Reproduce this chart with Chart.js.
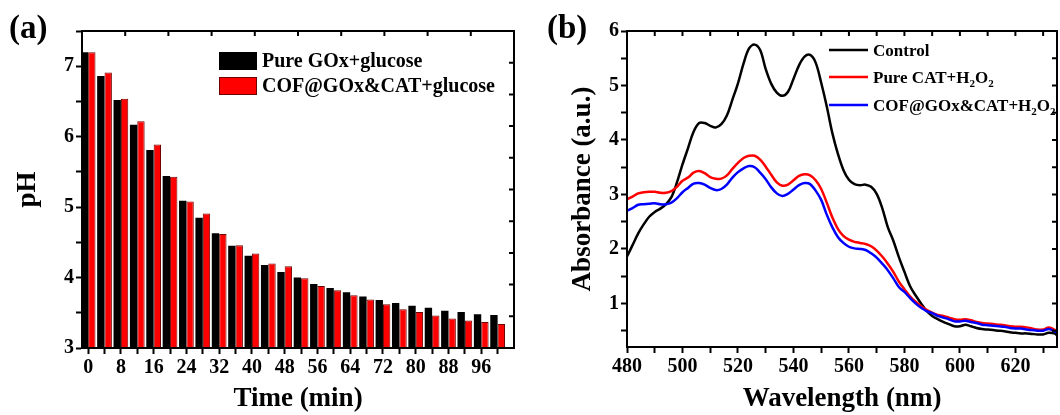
<!DOCTYPE html>
<html>
<head>
<meta charset="utf-8">
<script src="https://cdn.jsdelivr.net/npm/chart.js@4.4.1/dist/chart.umd.min.js"></script>
<style>
  html, body { margin: 0; padding: 0; background: #fff; }
  #wrap { position: relative; width: 1060px; height: 415px; overflow: hidden; }
  #chartA { position: absolute; left: 0; top: 0; }
  #chartB { position: absolute; left: 545px; top: 0; }
</style>
</head>
<body>
<div id="wrap">
  <canvas id="chartA" width="540" height="415"></canvas>
  <canvas id="chartB" width="515" height="415"></canvas>
</div>
<script>
// ---------- panel (a): pH vs time ----------
var times = [0, 4, 8, 12, 16, 20, 24, 28, 32, 36, 40, 44, 48, 52, 56, 60, 64, 68, 72, 76, 80, 84, 88, 92, 96, 100]
var phGox = [7.20, 6.86, 6.52, 6.17, 5.81, 5.44, 5.09, 4.85, 4.63, 4.45, 4.31, 4.18, 4.08, 4.00, 3.91, 3.85, 3.79, 3.73, 3.68, 3.64, 3.60, 3.57, 3.53, 3.51, 3.48, 3.47]
var phCof = [7.20, 6.91, 6.54, 6.22, 5.89, 5.43, 5.08, 4.91, 4.62, 4.46, 4.34, 4.20, 4.16, 3.99, 3.88, 3.82, 3.75, 3.69, 3.62, 3.55, 3.51, 3.46, 3.42, 3.39, 3.37, 3.34]
var legendA = ['Pure GOx+glucose', 'COF@GOx&CAT+glucose']
var yTicksA = [3, 3.5, 4, 4.5, 5, 5.5, 6, 6.5, 7, 7.5]

// ---------- panel (b): absorbance spectra ----------
var wavelength = [480, 482, 484, 486, 488, 490, 492, 494, 496, 498, 500, 502, 504, 506, 508, 510, 512, 514, 516, 518,
  520, 522, 524, 526, 528, 530, 532, 534, 536, 538, 540, 542, 544, 546, 548, 550, 552, 554, 556, 558,
  560, 562, 564, 566, 568, 570, 572, 574, 576, 578, 580, 582, 584, 586, 588, 590, 592, 594, 596, 598,
  600, 602, 604, 606, 608, 610, 612, 614, 616, 618, 620, 622, 624, 626, 628, 630, 632, 634, 635]
var absControl = [1.86, 2.07, 2.28, 2.45, 2.59, 2.68, 2.74, 2.82, 2.95, 3.22, 3.55, 3.85, 4.15, 4.31, 4.31, 4.26, 4.23, 4.29, 4.45, 4.74,
  5.04, 5.40, 5.68, 5.75, 5.65, 5.30, 5.03, 4.87, 4.81, 4.88, 5.12, 5.37, 5.53, 5.56, 5.42, 5.05, 4.62, 4.13, 3.75, 3.45,
  3.27, 3.19, 3.17, 3.18, 3.14, 3.01, 2.75, 2.40, 2.15, 1.85, 1.58, 1.32, 1.15, 1.00, 0.86, 0.77, 0.71, 0.66, 0.62, 0.58,
  0.58, 0.61, 0.58, 0.55, 0.53, 0.52, 0.51, 0.50, 0.49, 0.47, 0.46, 0.45, 0.45, 0.44, 0.43, 0.43, 0.46, 0.45, 0.42]
var absCat = [2.91, 2.96, 3.02, 3.04, 3.05, 3.05, 3.03, 3.03, 3.06, 3.14, 3.25, 3.31, 3.40, 3.43, 3.39, 3.32, 3.29, 3.29, 3.35, 3.47,
  3.58, 3.67, 3.71, 3.71, 3.64, 3.51, 3.36, 3.22, 3.16, 3.18, 3.26, 3.34, 3.37, 3.35, 3.26, 3.10, 2.85, 2.58, 2.37, 2.24,
  2.17, 2.13, 2.11, 2.09, 2.05, 1.97, 1.86, 1.73, 1.58, 1.40, 1.26, 1.13, 1.03, 0.95, 0.88, 0.83, 0.79, 0.77, 0.74, 0.71,
  0.70, 0.71, 0.69, 0.66, 0.64, 0.63, 0.62, 0.61, 0.60, 0.58, 0.57, 0.57, 0.56, 0.54, 0.52, 0.52, 0.56, 0.52, 0.50]
var absCof = [2.70, 2.75, 2.81, 2.82, 2.83, 2.84, 2.82, 2.82, 2.85, 2.93, 3.04, 3.12, 3.20, 3.21, 3.18, 3.12, 3.08, 3.10, 3.18, 3.31,
  3.41, 3.48, 3.52, 3.50, 3.40, 3.28, 3.13, 3.02, 2.97, 3.01, 3.09, 3.17, 3.21, 3.19, 3.07, 2.90, 2.63, 2.40, 2.22, 2.11,
  2.04, 2.01, 2.00, 1.98, 1.92, 1.84, 1.73, 1.61, 1.46, 1.30, 1.21, 1.10, 1.00, 0.92, 0.86, 0.82, 0.77, 0.74, 0.71, 0.67,
  0.67, 0.68, 0.66, 0.64, 0.61, 0.60, 0.59, 0.58, 0.57, 0.55, 0.54, 0.54, 0.52, 0.51, 0.50, 0.50, 0.53, 0.49, 0.46]
var xTicksB = [480, 490, 500, 510, 520, 530, 540, 550, 560, 570, 580, 590, 600, 610, 620, 630]
var yTicksB = [0.5, 1, 1.5, 2, 2.5, 3, 3.5, 4, 4.5, 5, 5.5, 6]

var SERIF = "'Liberation Serif', 'Times New Roman', serif"
Chart.defaults.font.family = SERIF
Chart.defaults.font.weight = 'bold'
Chart.defaults.color = '#000'

// box round the plot and small inner ticks on top and right
function framePlugin(mirrorTicks) {
  return {
    id: 'frame',
    afterDatasetsDraw(chart) {
      var ctx = chart.ctx, a = chart.chartArea
      var sx = chart.scales.x, sy = chart.scales.y
      ctx.save()
      ctx.strokeStyle = '#000'
      ctx.lineWidth = 2
      ctx.strokeRect(a.left, a.top, a.right - a.left, a.bottom - a.top)
      ctx.beginPath()
      if (mirrorTicks) {
        sx.ticks.forEach((t, i) => {
          var px = sx.getPixelForTick(i)
          ctx.moveTo(px, a.top); ctx.lineTo(px, a.top + 5)
        })
        sy.ticks.forEach((t, i) => {
          var py = sy.getPixelForTick(i)
          ctx.moveTo(a.right, py); ctx.lineTo(a.right - 5, py)
        })
      } else {
        // top / right axes of panel (a) are split in 10 parts
        for (var k = 1; k < 10; k++) {
          var px = a.left + (a.right - a.left) * k / 10
          var py = a.top + (a.bottom - a.top) * k / 10
          ctx.moveTo(px, a.top); ctx.lineTo(px, a.top + 5)
          ctx.moveTo(a.right, py); ctx.lineTo(a.right - 5, py)
        }
      }
      ctx.stroke()
      ctx.restore()
    }
  }
}

// text with "_2" style subscripts
function drawRich(ctx, parts, x, y, size) {
  parts.forEach(p => {
    var sub = p.startsWith('_')
    var txt = sub ? p.slice(1) : p
    ctx.font = 'bold ' + (sub ? Math.round(size * 0.65) : size) + 'px ' + SERIF
    ctx.fillText(txt, x, sub ? y + 4 : y)
    x += ctx.measureText(txt).width
  })
}

var legendPluginA = {
  id: 'legendA',
  afterDraw(chart) {
    var ctx = chart.ctx, a = chart.chartArea
    ctx.save()
    ctx.fillStyle = '#000'
    ctx.fillRect(a.left + 137, a.top + 21, 38, 18)
    ctx.fillStyle = '#ff0000'
    ctx.fillRect(a.left + 137, a.top + 46, 38, 18)
    ctx.strokeStyle = '#700000'
    ctx.lineWidth = 1
    ctx.strokeRect(a.left + 137.5, a.top + 46.5, 37, 17)
    ctx.fillStyle = '#000'
    ctx.textBaseline = 'alphabetic'
    ctx.font = 'bold 20px ' + SERIF
    ctx.fillText(legendA[0], a.left + 180, a.top + 36)
    ctx.fillText(legendA[1], a.left + 180, a.top + 61)
    ctx.font = 'bold 33px ' + SERIF
    ctx.fillText('(a)', 9, 38)
    ctx.restore()
  }
}

var legendPluginB = {
  id: 'legendB',
  afterDraw(chart) {
    var ctx = chart.ctx, a = chart.chartArea
    var rows = [
      { color: '#000000', parts: ['Control'] },
      { color: '#ff0000', parts: ['Pure CAT+H', '_2', 'O', '_2'] },
      { color: '#0000ff', parts: ['COF@GOx&CAT+H', '_2', 'O', '_2'] }
    ]
    var ys = [19, 46, 74]
    ctx.save()
    rows.forEach((r, i) => {
      var y = a.top + ys[i]
      ctx.strokeStyle = r.color
      ctx.lineWidth = 2.5
      ctx.beginPath()
      ctx.moveTo(a.left + 202, y); ctx.lineTo(a.left + 241, y)
      ctx.stroke()
      ctx.fillStyle = '#000'
      ctx.textBaseline = 'alphabetic'
      drawRich(ctx, r.parts, a.left + 246, y + 6, 17)
    })
    ctx.font = 'bold 33px ' + SERIF
    ctx.fillText('(b)', 2, 38)
    ctx.restore()
  }
}

var axisGrid = { drawOnChartArea: false, color: '#000', tickColor: '#000', tickLength: 6, tickWidth: 2, offset: false }
var axisBorder = { display: true, color: '#000', width: 2 }

// ---------- chart (a) ----------
new Chart(document.getElementById('chartA'), {
  type: 'bar',
  data: {
    datasets: [
      {
        label: legendA[0],
        data: times.map((t, i) => ({ x: t, y: phGox[i] })),
        backgroundColor: '#000000',
        borderWidth: 0
      },
      {
        label: legendA[1],
        data: times.map((t, i) => ({ x: t, y: phCof[i] })),
        backgroundColor: '#ff0000',
        borderColor: '#700000',
        borderWidth: 1
      }
    ]
  },
  options: {
    responsive: false,
    animation: false,
    events: [],
    layout: { padding: { top: 31, right: 26, left: 0, bottom: 0 } },
    datasets: { bar: { barPercentage: 1.0, categoryPercentage: 0.9, grouped: true } },
    plugins: { legend: { display: false }, tooltip: { enabled: false } },
    scales: {
      x: {
        type: 'linear',
        min: -1.5,
        max: 104,
        offset: false,
        afterBuildTicks: s => { s.ticks = times.map(v => ({ value: v })) },
        afterFit: s => { s.height = 67 },
        ticks: {
          autoSkip: false, maxRotation: 0, padding: 2,
          font: { size: 20, weight: 'bold' },
          callback: v => (v % 8 === 0 && v <= 96) ? String(v) : ''
        },
        grid: axisGrid,
        border: axisBorder,
        title: { display: true, text: 'Time (min)', font: { size: 27, weight: 'bold' }, padding: { top: 0, bottom: 0 } }
      },
      y: {
        min: 3,
        max: 7.5,
        afterBuildTicks: s => { s.ticks = yTicksA.map(v => ({ value: v })) },
        afterFit: s => { s.width = 82 },
        ticks: {
          padding: 2,
          font: { size: 20, weight: 'bold' },
          callback: v => Number.isInteger(v) && v < 7.5 ? String(v) : ''
        },
        grid: axisGrid,
        border: axisBorder,
        title: { display: true, text: 'pH', font: { size: 27, weight: 'bold' }, padding: { top: 12, bottom: 0 } }
      }
    }
  },
  plugins: [framePlugin(false), legendPluginA]
})

// ---------- chart (b) ----------
function line(values, color, order) {
  return {
    data: wavelength.map((w, i) => ({ x: w, y: values[i] })),
    borderColor: color,
    borderWidth: 2.5,
    pointRadius: 0,
    tension: 0.35,
    fill: false,
    order: order
  }
}

new Chart(document.getElementById('chartB'), {
  type: 'line',
  data: {
    datasets: [
      line(absControl, '#000000', 2),
      line(absCat, '#ff0000', 1),
      line(absCof, '#0000ff', 0)
    ]
  },
  options: {
    responsive: false,
    animation: false,
    events: [],
    layout: { padding: { top: 31, right: 3, left: 0, bottom: 0 } },
    plugins: { legend: { display: false }, tooltip: { enabled: false } },
    scales: {
      x: {
        type: 'linear',
        min: 480,
        max: 635,
        afterBuildTicks: s => { s.ticks = xTicksB.map(v => ({ value: v })) },
        afterFit: s => { s.height = 68 },
        ticks: {
          autoSkip: false, maxRotation: 0, padding: 2,
          font: { size: 20, weight: 'bold' },
          callback: v => v % 20 === 0 ? String(v) : ''
        },
        grid: axisGrid,
        border: axisBorder,
        title: { display: true, text: 'Wavelength (nm)', font: { size: 27, weight: 'bold' }, padding: { top: 0, bottom: 0 } }
      },
      y: {
        min: 0.2,
        max: 6,
        afterBuildTicks: s => { s.ticks = yTicksB.map(v => ({ value: v })) },
        afterFit: s => { s.width = 82 },
        ticks: {
          padding: 2,
          font: { size: 20, weight: 'bold' },
          callback: v => Number.isInteger(v) ? String(v) : ''
        },
        grid: axisGrid,
        border: axisBorder,
        title: { display: true, text: 'Absorbance (a.u.)', font: { size: 27, weight: 'bold' }, padding: { top: 22, bottom: 0 } }
      }
    }
  },
  plugins: [framePlugin(true), legendPluginB]
})
</script>
</body>
</html>
